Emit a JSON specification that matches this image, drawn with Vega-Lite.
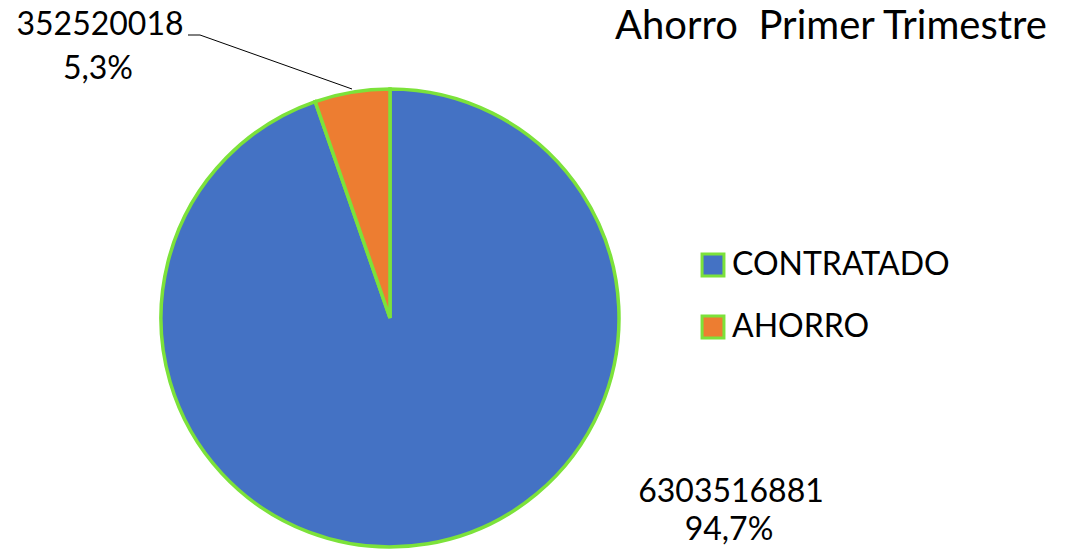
{
  "$schema": "https://vega.github.io/schema/vega-lite/v6.json",
  "width": 460,
  "height": 460,
  "autosize": {"type": "none"},
  "padding": {"left": 160, "top": 88, "right": 453, "bottom": 1},
  "background": "white",
  "config": {"view": {"stroke": null}, "font": "Lato"},
  "data": {
    "values": [
      {"categoria": "CONTRATADO", "valor": 6303516881, "porcentaje": "94,7%", "orden": 1},
      {"categoria": "AHORRO", "valor": 352520018, "porcentaje": "5,3%", "orden": 2}
    ]
  },
  "layer": [
    {
      "mark": {"type": "arc", "outerRadius": 229, "stroke": "#7CE23A", "strokeWidth": 3.5},
      "encoding": {
        "theta": {"field": "valor", "type": "quantitative", "stack": true},
        "order": {"field": "orden", "type": "quantitative"},
        "color": {
          "field": "categoria",
          "type": "nominal",
          "sort": ["CONTRATADO", "AHORRO"],
          "scale": {"domain": ["CONTRATADO", "AHORRO"], "range": ["#4472C4", "#ED7D31"]},
          "legend": {
            "title": null,
            "orient": "none",
            "legendX": 537,
            "legendY": 161,
            "symbolType": "square",
            "symbolSize": 480,
            "symbolStrokeColor": "#7CE23A",
            "symbolStrokeWidth": 3,
            "labelFontSize": 32,
            "labelFont": "Lato",
            "labelColor": "black",
            "labelOffset": 3,
            "labelLimit": 400,
            "rowPadding": 28
          }
        }
      }
    },
    {
      "transform": [{"filter": "datum.categoria === 'AHORRO'"}],
      "mark": {"type": "text", "baseline": "alphabetic", "align": "left", "fontSize": 40, "font": "Lato", "color": "black"},
      "encoding": {"text": {"value": "Ahorro \u00a0Primer Trimestre"}, "x": {"value": 455}, "y": {"value": -49}}
    },
    {
      "transform": [{"filter": "datum.categoria === 'AHORRO'"}],
      "mark": {"type": "text", "baseline": "alphabetic", "align": "center", "fontSize": 32, "font": "Lato", "color": "black"},
      "encoding": {"text": {"field": "valor", "type": "quantitative", "format": "d"}, "x": {"value": -60}, "y": {"value": -53}}
    },
    {
      "transform": [{"filter": "datum.categoria === 'AHORRO'"}],
      "mark": {"type": "text", "baseline": "alphabetic", "align": "center", "fontSize": 32, "font": "Lato", "color": "black"},
      "encoding": {"text": {"field": "porcentaje", "type": "nominal"}, "x": {"value": -62}, "y": {"value": -9}}
    },
    {
      "transform": [{"filter": "datum.categoria === 'CONTRATADO'"}],
      "mark": {"type": "text", "baseline": "alphabetic", "align": "center", "fontSize": 32, "font": "Lato", "color": "black"},
      "encoding": {"text": {"field": "valor", "type": "quantitative", "format": "d"}, "x": {"value": 571}, "y": {"value": 414}}
    },
    {
      "transform": [{"filter": "datum.categoria === 'CONTRATADO'"}],
      "mark": {"type": "text", "baseline": "alphabetic", "align": "center", "fontSize": 32, "font": "Lato", "color": "black"},
      "encoding": {"text": {"field": "porcentaje", "type": "nominal"}, "x": {"value": 569}, "y": {"value": 452}}
    },
    {
      "transform": [{"filter": "datum.categoria === 'AHORRO'"}],
      "mark": {"type": "rule", "color": "black", "strokeWidth": 1},
      "encoding": {"x": {"value": 28}, "y": {"value": -53}, "x2": {"value": 40}, "y2": {"value": -53}}
    },
    {
      "transform": [{"filter": "datum.categoria === 'AHORRO'"}],
      "mark": {"type": "rule", "color": "black", "strokeWidth": 1},
      "encoding": {"x": {"value": 40}, "y": {"value": -53}, "x2": {"value": 192}, "y2": {"value": 1}}
    }
  ]
}
